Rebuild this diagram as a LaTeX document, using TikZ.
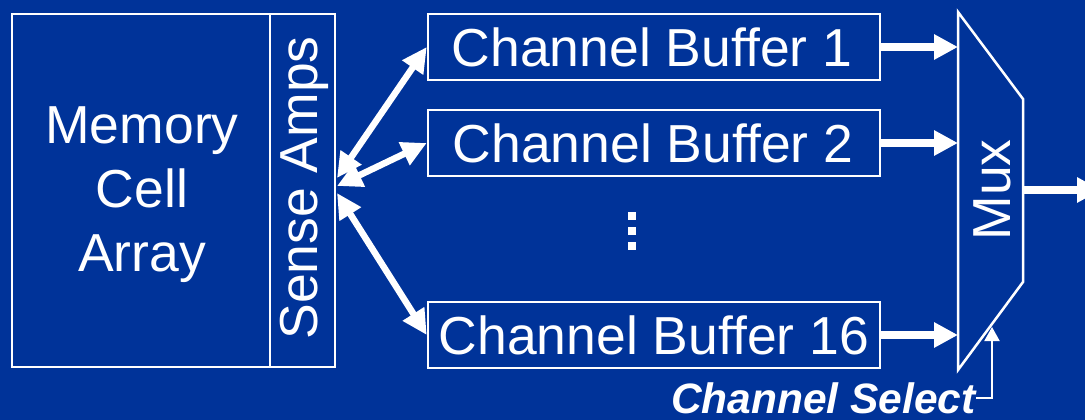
\documentclass[tikz,border=0pt]{standalone}
\usepackage{fontspec}
\setmainfont{Liberation Sans}
\usetikzlibrary{arrows.meta}
\definecolor{bg}{RGB}{0,51,153}
\begin{document}
\begin{tikzpicture}[x=1pt,y=-1pt,
  box/.style={draw=white,line width=2.5pt,inner sep=0pt},
  lbl/.style={text=white,font=\fontsize{53.5}{64}\selectfont,inner sep=0pt},
  bus/.style={white,line width=7.5pt,-{Triangle[length=24pt,width=24pt]}},
  dbus/.style={white,line width=6.5pt,{Triangle[length=25pt,width=24pt]}-{Triangle[length=25pt,width=24pt]}},
  sel/.style={white,line width=2pt,-{Triangle[length=14pt,width=15pt]}},
  dot/.style={fill=white,minimum size=8pt,inner sep=0pt},
]
\fill[bg] (0,0) rectangle (1085,420);
\useasboundingbox (0,0) rectangle (1085,420);
\clip (0,0) rectangle (1085,420);

% memory array and sense amps
\node[box,minimum width=258pt,minimum height=353pt] (mem) at (141,190.5) {};
\node[lbl,align=center] (memtxt) at (142,195) {Memory\\Cell\\Array};
\node[box,minimum width=65pt,minimum height=353pt] (sa) at (302.5,190.5) {};
\node[lbl,rotate=90] (satxt) at (304,188) {Sense Amps};

% channel buffers
\node[box,minimum width=452pt,minimum height=66pt] (cb1) at (654,47) {};
\node[lbl] at (652,47) {Channel Buffer 1};
\node[box,minimum width=452pt,minimum height=66pt] (cb2) at (654,143) {};
\node[lbl] at (653,143) {Channel Buffer 2};
\node[box,minimum width=452pt,minimum height=66pt] (cb16) at (654,335) {};
\node[lbl] at (654,335) {Channel Buffer 16};

% dots
\node[dot] (d1) at (632,216) {};
\node[dot] (d2) at (632,231) {};
\node[dot] (d3) at (632,246) {};

% mux
\coordinate (mA) at (958,12);
\coordinate (mB) at (1023,99);
\coordinate (mC) at (1023,282);
\coordinate (mD) at (958,370);
\draw[white,line width=2.5pt,line join=miter] (mA) -- (mB) -- (mC) -- (mD) -- cycle;
\node[lbl,rotate=90] (mux) at (992,190) {Mux};

% sense amps <-> buffers
\coordinate (p1) at (337,178);
\coordinate (p2) at (337,186);
\coordinate (p3) at (337,193);
\draw[dbus] (p1) -- (cb1.west);
\draw[dbus] (p2) -- (cb2.west);
\draw[dbus] (p3) -- (cb16.west);

% buffers -> mux
\draw[bus] (cb1.east) -- (cb1.east -| mA);
\draw[bus] (cb2.east) -- (cb2.east -| mA);
\draw[bus] (cb16.east) -- (cb16.east -| mA);

% output
\coordinate (mout) at (1023,190);
\coordinate (out) at (1101,190);
\draw[bus] (mout) -- (out);

% channel select
\node[text=white,font=\fontsize{42.5}{50}\selectfont\bfseries\itshape,inner sep=0pt,anchor=east] (cs) at (976,398) {Channel Select};
\coordinate (cst) at (992,327);
\draw[sel] (cs.east) -| (cst);
\end{tikzpicture}
\end{document}
